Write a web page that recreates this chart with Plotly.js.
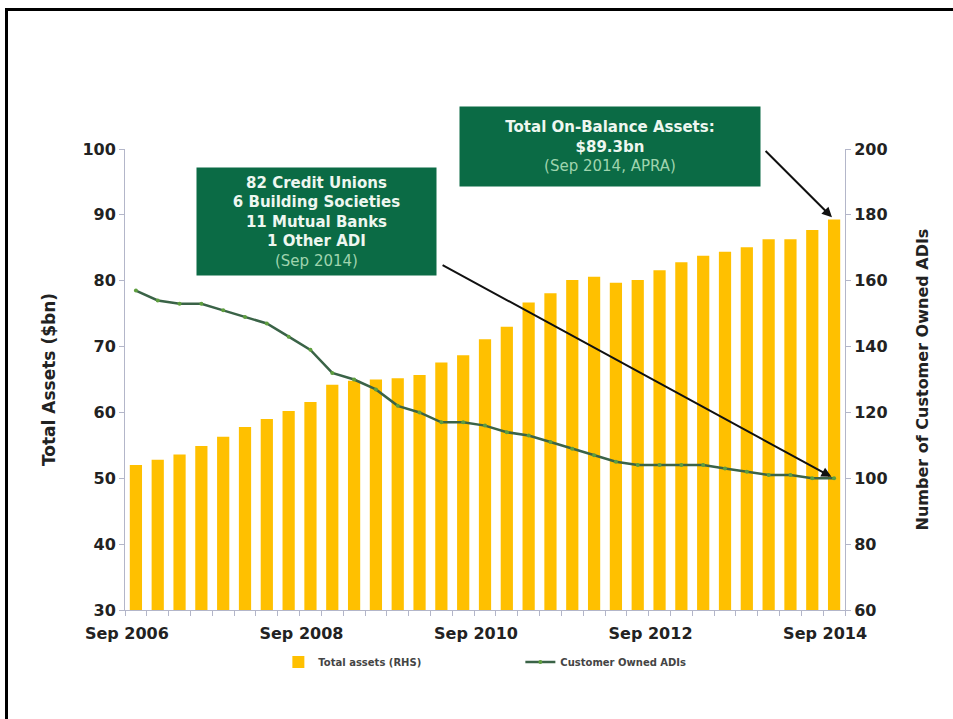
<!DOCTYPE html>
<html>
<head>
<meta charset="utf-8">
<script src="https://cdn.plot.ly/plotly-3.0.1.min.js"></script>
<style>
  html, body { margin: 0; padding: 0; background: #fff; }
  #wrap { position: relative; width: 953px; height: 719px; }
  #chart { width: 953px; height: 719px; }
  #frame { position: absolute; left: 5px; top: 8px; right: -10px; bottom: -10px;
           border-top: 3px solid #000; border-left: 3px solid #000; pointer-events: none; }
</style>
</head>
<body>
<div id="wrap">
  <div id="chart"></div>
  <div id="frame"></div>
</div>
<script>
// Quarterly periods, Sep 2006 .. Sep 2014
const quarters = [
  "Sep 2006","Dec 2006","Mar 2007","Jun 2007","Sep 2007","Dec 2007","Mar 2008","Jun 2008",
  "Sep 2008","Dec 2008","Mar 2009","Jun 2009","Sep 2009","Dec 2009","Mar 2010","Jun 2010",
  "Sep 2010","Dec 2010","Mar 2011","Jun 2011","Sep 2011","Dec 2011","Mar 2012","Jun 2012",
  "Sep 2012","Dec 2012","Mar 2013","Jun 2013","Sep 2013","Dec 2013","Mar 2014","Jun 2014",
  "Sep 2014"
];
// Total assets ($bn), left axis
const totalAssets = [
  52.0, 52.8, 53.6, 54.9, 56.3, 57.8, 59.0, 60.2,
  61.6, 64.2, 64.8, 65.0, 65.2, 65.7, 67.6, 68.7,
  71.1, 73.0, 76.7, 78.1, 80.1, 80.6, 79.7, 80.1,
  81.6, 82.8, 83.8, 84.4, 85.1, 86.3, 86.3, 87.7,
  89.3
];
// Number of customer owned ADIs, right axis
const customerOwnedADIs = [
  157, 154, 153, 153, 151, 149, 147, 143,
  139, 132, 130, 127, 122, 120, 117, 117,
  116, 114, 113, 111, 109, 107, 105, 104,
  104, 104, 104, 103, 102, 101, 101, 100,
  100
];
const labelEvery = 8;
const tickText = quarters.map((q, i) => (i % labelEvery === 0 ? q : ""));
const lastQ = quarters[quarters.length - 1];

const font = "DejaVu Sans, Verdana, sans-serif";
const axisCol = "#b3b6c9";

const traces = [
  {
    type: "bar", name: "Total assets (RHS)",
    x: quarters, y: totalAssets, yaxis: "y",
    marker: { color: "#FFC000" },
    hoverinfo: "x+y"
  },
  {
    type: "scatter", mode: "lines+markers", name: "Customer Owned ADIs",
    x: quarters, y: customerOwnedADIs, yaxis: "y2",
    line: { color: "#3a6347", width: 2.5 },
    marker: { color: "#5e9e3e", size: 4, symbol: "circle" }
  }
];

const layout = {
  width: 953, height: 719,
  margin: { l: 125, r: 108, t: 149, b: 109 },
  paper_bgcolor: "#fff", plot_bgcolor: "#fff",
  font: { family: font, color: "#222" },
  bargap: 0.44,
  showlegend: true,
  legend: {
    orientation: "h", x: 0.213, y: -0.113, xanchor: "left", yanchor: "middle",
    font: { size: 10, color: "#444", family: font, weight: "bold" },
    entrywidth: 197, itemwidth: 30, bgcolor: "rgba(0,0,0,0)"
  },
  xaxis: {
    type: "category", range: [-0.5, quarters.length - 0.5], autorange: false,
    tickmode: "array", tickvals: quarters, ticktext: tickText,
    tickson: "boundaries", ticks: "outside", ticklen: 5, tickcolor: axisCol,
    ticklabelstandoff: 9, ticklabelshift: -9,
    showline: true, linecolor: axisCol, linewidth: 1,
    showgrid: false, zeroline: false,
    tickangle: 0,
    tickfont: { size: 16, family: font, color: "#222", weight: "bold" }
  },
  yaxis: {
    range: [30, 100], autorange: false, dtick: 10,
    showline: true, linecolor: axisCol, ticks: "outside", ticklen: 5, tickcolor: axisCol,
    showgrid: false, zeroline: false,
    tickfont: { size: 16, family: font, color: "#222", weight: "bold" },
    title: { text: "Total Assets ($bn)", standoff: 22,
             font: { size: 17, family: font, color: "#222", weight: "bold" } }
  },
  yaxis2: {
    overlaying: "y", side: "right",
    range: [60, 200], autorange: false, dtick: 20,
    showline: true, linecolor: axisCol, ticks: "outside", ticklen: 5, tickcolor: axisCol,
    showgrid: false, zeroline: false,
    tickfont: { size: 16, family: font, color: "#222", weight: "bold" },
    title: { text: "Number of Customer Owned ADIs", standoff: 30,
             font: { size: 16, family: font, color: "#222", weight: "bold" } }
  },
  annotations: [
    {
      xref: "paper", yref: "paper", x: 0.266, y: 0.843, xanchor: "center", yanchor: "middle",
      showarrow: false, bgcolor: "#0b6b45", width: 237, height: 105,
      font: { size: 15, family: font, color: "#eef7f0" },
      text: "<b>82 Credit Unions<br>6 Building Societies<br>11 Mutual Banks<br>1 Other ADI</b><br><span style='color:#9fd4ae'>(Sep 2014)</span>"
    },
    {
      xref: "paper", yref: "paper", x: 0.674, y: 1.005, xanchor: "center", yanchor: "middle",
      showarrow: false, bgcolor: "#0b6b45", width: 298, height: 77,
      font: { size: 15, family: font, color: "#eef7f0" },
      text: "<b>Total On-Balance Assets:<br>$89.3bn</b><br><span style='color:#9fd4ae'>(Sep 2014, APRA)</span>"
    },
    {
      x: lastQ, y: customerOwnedADIs[customerOwnedADIs.length - 1], xref: "x", yref: "y2",
      text: "", showarrow: true, arrowhead: 2, arrowsize: 1, arrowwidth: 2, arrowcolor: "#111",
      axref: "pixel", ayref: "pixel", ax: -393, ay: -214, standoff: 3
    },
    {
      x: lastQ, y: totalAssets[totalAssets.length - 1], xref: "x", yref: "y",
      text: "", showarrow: true, arrowhead: 2, arrowsize: 1, arrowwidth: 2, arrowcolor: "#111",
      axref: "pixel", ayref: "pixel", ax: -70, ay: -70, standoff: 3
    }
  ]
};

Plotly.newPlot("chart", traces, layout, { displayModeBar: false, staticPlot: true });
</script>
</body>
</html>
